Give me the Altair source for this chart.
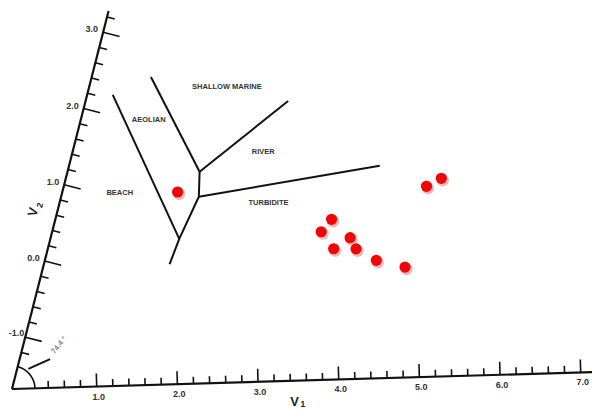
import math
import numpy as np
import pandas as pd
import altair as alt

# ---------------- data ----------------
sample_v1 = [1.39, 3.40, 3.31, 3.69, 3.52, 3.80, 4.09, 4.47, 4.48, 4.64]
sample_v2 = [0.86, 0.44, 0.28, 0.19, 0.05, 0.04, -0.12, -0.22, 0.84, 0.94]

boundary_id = ["A", "A", "B", "B", "C", "C", "D", "D", "D", "D", "E", "E"]
boundary_order = [0, 1, 0, 1, 0, 1, 0, 1, 2, 3, 0, 1]
boundary_v1 = [0.27, 1.56, 0.69, 1.60, 1.60, 2.48, 1.60, 1.67, 1.56, 1.52, 1.67, 3.83]
boundary_v2 = [2.17, 0.24, 2.39, 1.12, 1.12, 2.02, 1.12, 0.79, 0.24, -0.09, 0.79, 1.13]

region_names = ["SHALLOW MARINE", "AEOLIAN", "RIVER", "BEACH", "TURBIDITE"]
region_v1 = [1.67, 0.80, 2.33, 0.67, 2.56]
region_v2 = [2.23, 1.82, 1.36, 0.87, 0.68]

v1_ticks = [0.4, 0.6, 0.8, 1.0, 1.2, 1.4, 1.6, 1.8, 2.0, 2.2, 2.4, 2.6, 2.8, 3.0,
            3.2, 3.4, 3.6, 3.8, 4.0, 4.2, 4.4, 4.6, 4.8, 5.0, 5.2, 5.4, 5.6, 5.8,
            6.0, 6.2, 6.4, 6.6, 6.8, 7.0]
v1_labels = [1.0, 2.0, 3.0, 4.0, 5.0, 6.0, 7.0]
v1_label_text = ["1.0", "2.0", "3.0", "4.0", "5.0", "6.0", "7.0"]
v2_ticks = [-1.2, -1.0, -0.8, -0.6, -0.4, -0.2, 0.0, 0.2, 0.4, 0.6, 0.8, 1.0,
            1.2, 1.4, 1.6, 1.8, 2.0, 2.2, 2.4, 2.6, 2.8, 3.0, 3.2]
v2_labels = [-1.0, 0.0, 1.0, 2.0, 3.0]
v2_label_text = ["-1.0", "0.0", "1.0", "2.0", "3.0"]

angle_label = "74.4 °"

# ---------------- oblique axis geometry ----------------
C0, C1 = 12.0, 389.0          # page position of the axes corner
V1MIN, V2MIN = -0.05, -1.68   # values at the corner
V1MAX, V2MAX = 7.15, 3.28
ROT = math.radians(1.67)      # slight rotation of the whole figure
ANG = math.radians(74.0)      # angle between the two axes
U1, U2 = 80.7, 78.66          # pixels per unit
E1X, E1Y = U1 * math.cos(ROT), -U1 * math.sin(ROT)
E2X, E2Y = U2 * math.cos(ROT + ANG), -U2 * math.sin(ROT + ANG)
N1X, N1Y = -math.sin(ROT), -math.cos(ROT)
N2X, N2Y = math.sin(ROT + ANG), math.cos(ROT + ANG)


def pxe(a, b):
    return f"{C0} + (({a}) - ({V1MIN}))*{E1X} + (({b}) - ({V2MIN}))*{E2X}"


def pye(a, b):
    return f"{C1} + (({a}) - ({V1MIN}))*{E1Y} + (({b}) - ({V2MIN}))*{E2Y}"


XS = alt.Scale(domain=[8, 592], nice=False, zero=False)
YS = alt.Scale(domain=[8, 411], nice=False, zero=False, reverse=True)


def X(f):
    return alt.X(f"{f}:Q", scale=XS, axis=None)


def Y(f):
    return alt.Y(f"{f}:Q", scale=YS, axis=None)


FONT = "Liberation Sans"

# axis lines
axes_df = pd.DataFrame({"a1": [V1MIN, V1MIN], "b1": [V2MIN, V2MIN],
                        "a2": [V1MAX, V1MIN], "b2": [V2MIN, V2MAX]})
axes = alt.Chart(axes_df).transform_calculate(
    px=pxe("datum.a1", "datum.b1"), py=pye("datum.a1", "datum.b1"),
    px2=pxe("datum.a2", "datum.b2"), py2=pye("datum.a2", "datum.b2"),
).mark_rule(color="#111", strokeWidth=2.2).encode(
    x=X("px"), y=Y("py"), x2="px2:Q", y2="py2:Q")

# ticks on V1
t1_df = pd.DataFrame({"v": v1_ticks})
t1 = alt.Chart(t1_df).transform_calculate(
    major="abs(datum.v - round(datum.v)) < 0.001",
    px=pxe("datum.v", V2MIN), py=pye("datum.v", V2MIN),
).transform_calculate(
    ln="datum.major ? 13 : 7",
).transform_calculate(
    px2=f"datum.px + {N1X}*datum.ln", py2=f"datum.py + {N1Y}*datum.ln",
).mark_rule(color="#111", strokeWidth=1.6).encode(
    x=X("px"), y=Y("py"), x2="px2:Q", y2="py2:Q")

# ticks on V2
t2_df = pd.DataFrame({"v": v2_ticks})
t2 = alt.Chart(t2_df).transform_calculate(
    major="abs(datum.v - round(datum.v)) < 0.001",
    px=pxe(V1MIN, "datum.v"), py=pye(V1MIN, "datum.v"),
).transform_calculate(
    ln="datum.major ? 17 : 8",
).transform_calculate(
    px2=f"datum.px + {N2X}*datum.ln", py2=f"datum.py + {N2Y}*datum.ln",
).mark_rule(color="#111", strokeWidth=1.6).encode(
    x=X("px"), y=Y("py"), x2="px2:Q", y2="py2:Q")

# tick labels
l1 = alt.Chart(pd.DataFrame({"v": v1_labels, "lab": v1_label_text})).transform_calculate(
    px=pxe("datum.v", V2MIN), py=pye("datum.v", V2MIN),
).mark_text(font=FONT, fontSize=9, fontWeight="bold", color="#333",
            align="center", baseline="middle", dx=2, dy=10).encode(
    x=X("px"), y=Y("py"), text="lab:N")

l2_base = alt.Chart(pd.DataFrame({"v": v2_labels, "lab": v2_label_text})).transform_calculate(
    px=pxe(V1MIN, "datum.v"), py=pye(V1MIN, "datum.v"),
)
l2 = l2_base.transform_filter("datum.v > -0.5").mark_text(
    font=FONT, fontSize=9, fontWeight="bold", color="#333",
    align="right", baseline="middle", dx=-5, dy=-3).encode(
    x=X("px"), y=Y("py"), text="lab:N")
l2neg = l2_base.transform_filter("datum.v <= -0.5").mark_text(
    font=FONT, fontSize=9, fontWeight="bold", color="#333",
    align="right", baseline="middle", dx=-1, dy=-4).encode(
    x=X("px"), y=Y("py"), text="lab:N")

# boundaries
bdf = pd.DataFrame({"id": boundary_id, "o": boundary_order,
                    "v1": boundary_v1, "v2": boundary_v2})
bounds = alt.Chart(bdf).transform_calculate(
    px=pxe("datum.v1", "datum.v2"), py=pye("datum.v1", "datum.v2"),
).mark_line(color="#111", strokeWidth=2).encode(
    x=X("px"), y=Y("py"), detail="id:N", order="o:Q")

# region labels
rdf = pd.DataFrame({"name": region_names, "v1": region_v1, "v2": region_v2})
regions = alt.Chart(rdf).transform_calculate(
    px=pxe("datum.v1", "datum.v2"), py=pye("datum.v1", "datum.v2"),
).mark_text(font=FONT, fontSize=7.5, fontWeight="bold", color="#333",
            align="center", baseline="middle").encode(
    x=X("px"), y=Y("py"), text="name:N")

# samples
sdf = pd.DataFrame({"v1": sample_v1, "v2": sample_v2})
sbase = alt.Chart(sdf).transform_calculate(
    px=pxe("datum.v1", "datum.v2"), py=pye("datum.v1", "datum.v2"))
shadow = sbase.mark_circle(size=150, color="#d98080", opacity=0.55,
                           xOffset=1.5, yOffset=2).encode(x=X("px"), y=Y("py"))
pts = sbase.mark_circle(size=125, color="#f20505", opacity=1).encode(
    x=X("px"), y=Y("py"))

# angle arc and label
arc_t = list(np.linspace(0.0, 1.0, 24))
arc = alt.Chart(pd.DataFrame({"t": arc_t})).transform_calculate(
    ang=f"{ROT} + datum.t*{ANG}",
).transform_calculate(
    px=f"{C0} + 23*cos(datum.ang)", py=f"{C1} - 23*sin(datum.ang)",
).mark_line(color="#111", strokeWidth=1.6).encode(
    x=X("px"), y=Y("py"), order="t:Q")

leader = alt.Chart(pd.DataFrame({"a1": [0.09], "b1": [-1.42],
                                 "a2": [0.33], "b2": [-1.30]})).transform_calculate(
    px=pxe("datum.a1", "datum.b1"), py=pye("datum.a1", "datum.b1"),
    px2=pxe("datum.a2", "datum.b2"), py2=pye("datum.a2", "datum.b2"),
).mark_rule(color="#111", strokeWidth=2).encode(
    x=X("px"), y=Y("py"), x2="px2:Q", y2="py2:Q")

angtext = alt.Chart(pd.DataFrame({"v1": [0.40], "v2": [-1.12],
                                  "lab": [angle_label]})).transform_calculate(
    px=pxe("datum.v1", "datum.v2"), py=pye("datum.v1", "datum.v2"),
).mark_text(font=FONT, fontSize=7.5, fontWeight="bold", color="#888",
            angle=309, align="center", baseline="middle").encode(
    x=X("px"), y=Y("py"), text="lab:N")

# axis titles
tdf = pd.DataFrame({"v1": [3.52, -0.35], "v2": [-1.96, 0.65], "lab": ["V", "V"],
                    "rot": [0, 285]})
sub_df = pd.DataFrame({"v1": [3.63, -0.29], "v2": [-1.99, 0.74], "lab": ["1", "2"],
                       "rot": [0, 285]})
titles = alt.Chart(tdf).transform_calculate(
    px=pxe("datum.v1", "datum.v2"), py=pye("datum.v1", "datum.v2"),
).mark_text(font=FONT, fontSize=13, fontWeight="bold", color="#222",
            align="center", baseline="middle").encode(
    x=X("px"), y=Y("py"), text="lab:N", angle=alt.Angle("rot:Q", scale=None))
subs = alt.Chart(sub_df).transform_calculate(
    px=pxe("datum.v1", "datum.v2"), py=pye("datum.v1", "datum.v2"),
).mark_text(font=FONT, fontSize=8.5, fontWeight="bold", color="#222",
            align="center", baseline="middle").encode(
    x=X("px"), y=Y("py"), text="lab:N", angle=alt.Angle("rot:Q", scale=None))

chart = alt.layer(
    axes, t1, t2, l1, l2, l2neg, bounds, regions, shadow, pts, arc, leader,
    angtext, titles, subs,
).properties(
    width=584, height=403, padding=0, autosize=alt.AutoSizeParams(type="none"),
    background="white",
).configure_view(stroke=None)

chart.save("out.html", embed_options={"renderer": "svg", "actions": False})
